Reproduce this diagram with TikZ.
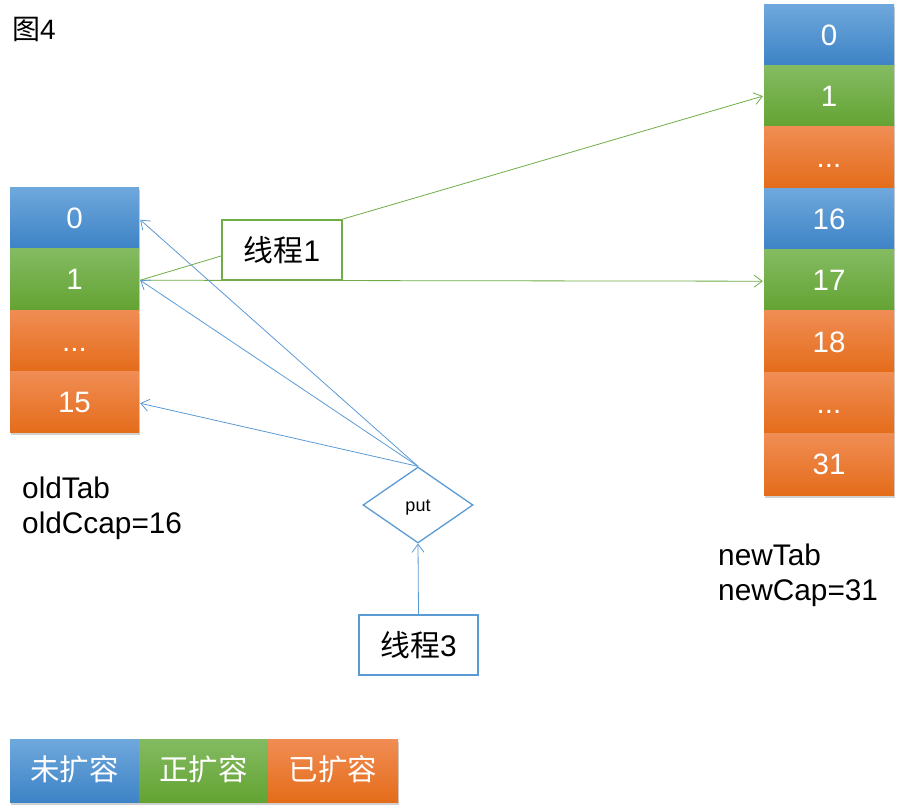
\documentclass[tikz,border=0pt]{standalone}
\usepackage{fontspec}
\setmainfont{Liberation Sans}
\newfontfamily\cjk{Noto Sans CJK SC}
\usetikzlibrary{shapes.geometric,arrows.meta,shadows,calc}
\definecolor{bltop}{HTML}{6FA8DC}
\definecolor{blbot}{HTML}{3D83C6}
\definecolor{grtop}{HTML}{84BB62}
\definecolor{grbot}{HTML}{63A332}
\definecolor{ortop}{HTML}{F08D54}
\definecolor{orbot}{HTML}{E46C1A}
\definecolor{gline}{HTML}{70AD47}
\definecolor{bline}{HTML}{5B9BD5}
\tikzset{
  cell/.style={minimum width=129pt, minimum height=61.4pt, inner sep=0pt, text=white,
    font=\fontsize{29.5}{34}\selectfont, text height=21pt, text depth=0pt,
    drop shadow={shadow xshift=1pt, shadow yshift=-2.5pt, opacity=0.3, fill=black!60}},
  bcell/.style={cell, top color=bltop, bottom color=blbot},
  gcell/.style={cell, top color=grtop, bottom color=grbot},
  ocell/.style={cell, top color=ortop, bottom color=orbot},
  big/.style={font=\fontsize{29.8}{34.5}\selectfont},
  thread/.style={big, minimum width=120pt, minimum height=60pt, inner sep=0pt, line width=2pt, fill=white},
  garrow/.style={draw=gline, line width=0.8pt, -{Straight Barb[length=8pt,width=12pt]}},
  barrow/.style={draw=bline, line width=0.8pt, -{Straight Barb[length=8pt,width=12pt]}},
}
\begin{document}
\begin{tikzpicture}[x=1pt,y=-1pt]
\useasboundingbox[fill=white] (0,0) rectangle (900,811);
\node[anchor=base west, inner sep=0pt, font=\fontsize{28}{30}\selectfont] (fig) at (12,39) {{\cjk 图}4};
% old table
\node[bcell] (o0) at (74.5,217.75) {0};
\node[gcell] (o1) at (74.5,279.25) {1};
\node[ocell] (o2) at (74.5,340.75) {...};
\node[ocell] (o3) at (74.5,402.25) {15};
% new table
\node[bcell, minimum width=130pt] (n0) at (829,34.7) {0};
\node[gcell, minimum width=130pt] (n1) at (829,96.1) {1};
\node[ocell, minimum width=130pt] (n2) at (829,157.4) {...};
\node[bcell, minimum width=130pt] (n3) at (829,218.8) {16};
\node[gcell, minimum width=130pt] (n4) at (829,280.2) {17};
\node[ocell, minimum width=130pt] (n5) at (829,341.6) {18};
\node[ocell, minimum width=130pt] (n6) at (829,403) {...};
\node[ocell, minimum width=130pt] (n7) at (829,464.3) {31};
% labels
\node[big, align=left, anchor=north west, inner sep=0pt] (oldl) at (22,477) {oldTab\\oldCcap=16};
\node[big, align=left, anchor=north west, inner sep=0pt] (newl) at (718,544) {newTab\\newCap=31};
% threads
\node[thread, draw=gline] (t1) at (282,250) {{\cjk 线程}1};
\node[thread, draw=bline, minimum width=119pt] (t3) at (418.5,645) {{\cjk 线程}3};
\node[draw=bline, line width=1.3pt, shape=diamond, minimum width=110pt, minimum height=76pt, inner sep=0pt, font=\fontsize{18}{20}\selectfont, text height=13pt, text depth=0pt] (put) at (418,505) {put};
% connectors
\draw[garrow] (t1.north east) -- ($(n1.west)+(-1,0)$);
\draw[gline, line width=0.8pt] ($(t1.west)+(0,6)$) -- ($(o1.east)+(1,1)$);
\draw[garrow] ($(o1.east)+(1,1)$) -- ($(n4.west)+(-1,1)$);
\draw[barrow] (put.north) -- ($(o0.east)+(1,2)$);
\draw[barrow] (put.north) -- ($(o1.east)+(1,1)$);
\draw[barrow] (put.north) -- ($(o3.east)+(1,1)$);
\draw[barrow] (t3.north) -- (put.south);
% legend
\node[bcell, font=\cjk\fontsize{29.5}{34}\selectfont, text height=22pt, text depth=2pt, minimum height=63pt] (lg1) at (74.5,770.5) {未扩容};
\node[gcell, font=\cjk\fontsize{29.5}{34}\selectfont, text height=22pt, text depth=2pt, minimum height=63pt] (lg2) at (203.5,770.5) {正扩容};
\node[ocell, font=\cjk\fontsize{29.5}{34}\selectfont, text height=22pt, text depth=2pt, minimum height=63pt, minimum width=130pt] (lg3) at (333,770.5) {已扩容};
\end{tikzpicture}
\end{document}
